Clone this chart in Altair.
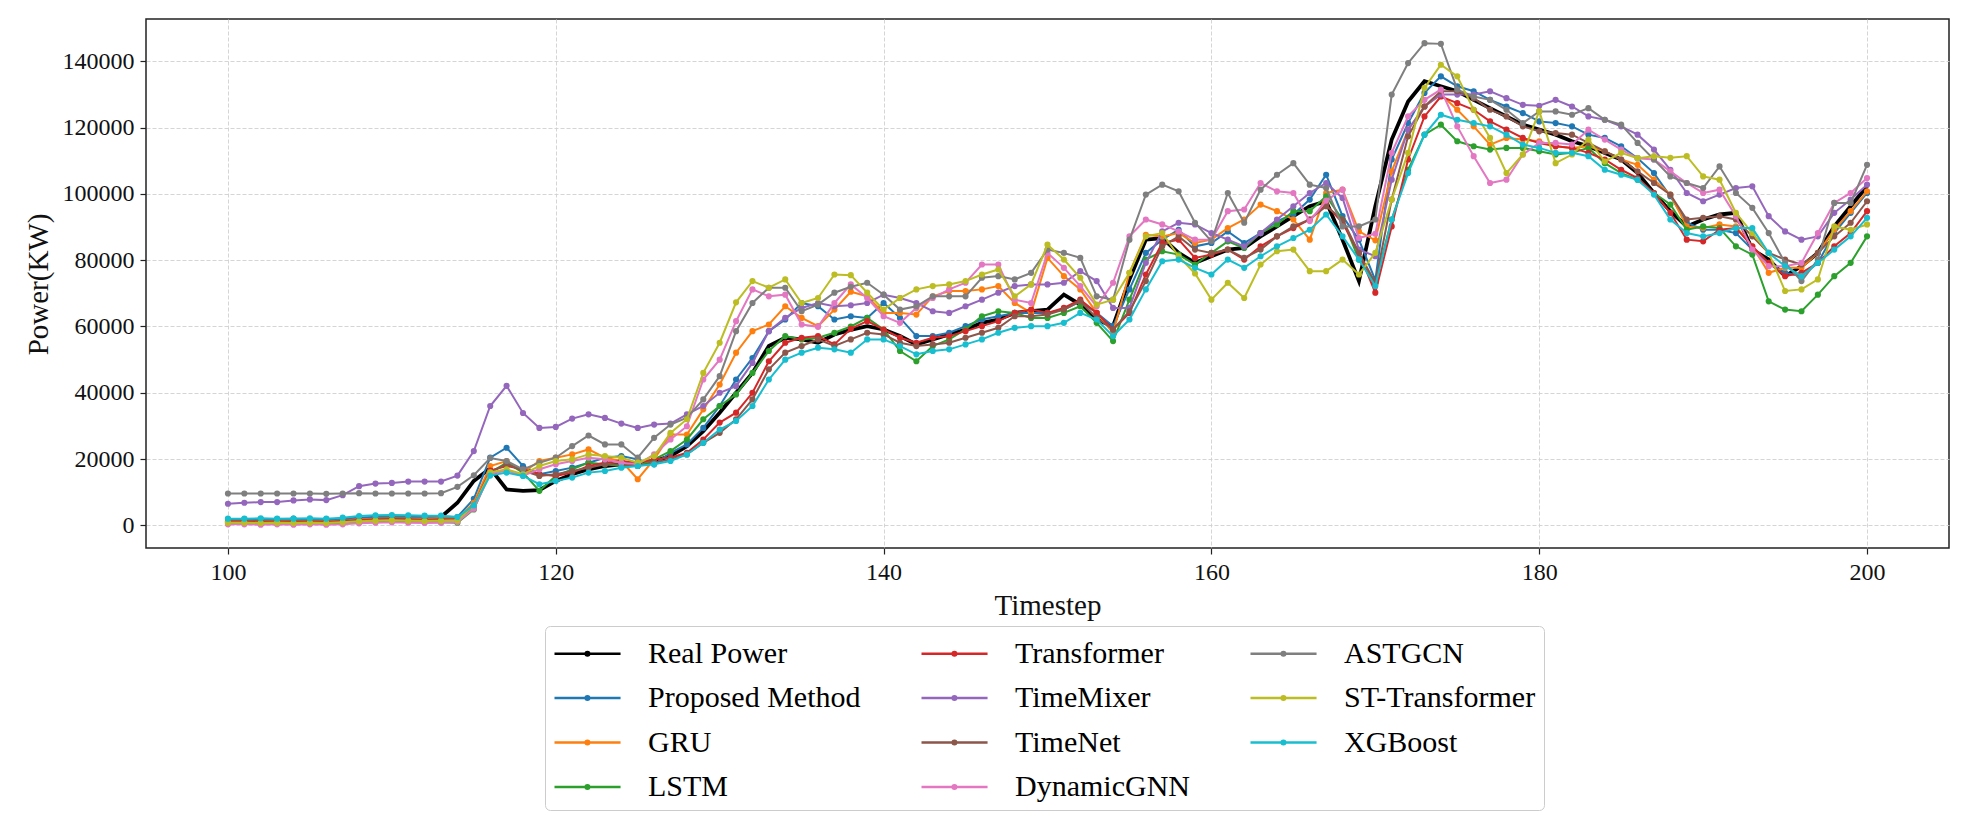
import altair as alt
import pandas as pd

timesteps = list(range(100, 201))

real_power = [1000,1000,1000,1100,1000,1000,1100,1200,1600,1800,1900,1800,1800,2500,
              6800,13400,17200,10800,10400,10600,
              13400,15400,16900,17900,18400,18900,19400,20900,23900,28400,
              34000,40000,46000,54100,56600,56100,55100,57600,59000,60100,
              59100,57100,54600,56100,57600,59100,61100,62100,64100,64600,
              65100,69600,66600,62100,60100,74200,86200,86700,82200,79200,
              81200,83200,83700,87200,90200,93300,96300,97800,86200,73700,
              96300,116400,127900,134000,132500,131000,128400,125900,123400,120900,
              119400,117900,115900,114400,112400,110400,106300,100300,94800,90200,
              92300,93800,94300,83200,80200,75200,78200,82200,90200,96300,102300]

proposed = [1800,1900,1900,1900,2000,1900,1800,2000,2300,2600,2700,2600,2500,2600,
            2500,8000,20400,23400,17900,15400,
            16400,17400,18900,20400,20900,19900,18400,21900,24400,29400,
            36000,44000,50500,58600,62100,67100,66100,62100,63100,62600,
            67100,62600,57100,57100,58100,60100,62100,63100,64100,64100,
            64100,65100,67600,64100,60100,71200,82200,86200,89200,84200,
            85200,88700,85200,88200,91800,93800,98300,105800,93300,86200,
            74000,110400,121400,130500,135500,132500,131000,128400,126400,124400,
            121900,121400,120400,117900,116900,114400,110800,106300,99300,91300,
            89200,89200,88200,83200,79200,76200,75200,79200,88200,94300,100300]

gru = [1300,1300,1200,1300,1200,1300,1200,1400,1800,2000,2100,2000,2000,2100,
       2000,6800,17900,19400,15900,19400,
       20400,21400,22900,20400,19400,13900,19900,27400,27400,35000,
       42500,52100,58600,60600,66100,62600,60100,65100,70500,69100,
       64100,64100,63600,69100,70700,70700,71200,72200,67100,64100,
       80700,75200,71200,64100,58100,76200,87700,87200,88200,85200,
       86200,89700,92300,96800,94800,92300,86200,100300,101300,88700,
       86000,106800,119400,126400,130000,125400,120400,114900,116900,116400,
       115900,114400,113900,114400,112900,110400,108800,104300,99800,90200,
       89700,90800,90200,84200,76200,77700,77700,82200,89200,94800,100800]

lstm = [600,600,500,600,500,600,500,600,1000,1200,1300,1200,1100,900,
        800,4800,15900,18900,15900,10400,
        14900,16900,18900,18400,17900,17900,19900,22400,25900,32000,
        36000,39500,46000,52600,57100,56100,56600,58100,60000,62600,
        59100,52600,49500,54100,56100,59100,63100,64600,64100,62600,
        62600,64100,66100,61100,55600,68100,80200,82700,81700,78700,
        82200,85700,83700,88200,90800,94800,94800,99300,92300,80200,
        73200,92300,107300,117900,120900,115900,114400,113400,113900,113900,
        112900,111900,112400,113900,109300,106300,104300,100300,96800,89200,
        90200,89700,84200,81700,67600,65100,64600,69600,75200,79200,87200]

transformer = [1200,1200,1100,1200,1100,1200,1100,1300,1600,1800,1900,1800,1700,1800,
               1800,6000,16500,17900,16900,15400,
               14900,15900,17900,18900,19400,18900,19900,20400,21900,25900,
               31000,34000,40000,49500,55100,56600,57100,54600,59300,61600,
               59100,56600,55100,56600,57100,58600,60100,61600,64100,65100,
               64100,65600,68100,64100,59100,64100,75700,85200,86200,80700,
               81700,83200,80200,84200,87200,89700,92300,96800,91300,82200,
               70200,90200,110400,123400,129400,127400,125400,121900,119400,116900,
               115400,114400,113900,112400,110400,107300,104800,100300,94300,86200,
               85700,89200,89700,84200,79200,75200,76200,79200,84200,88200,94800]

timemixer = [6500,6800,7000,7000,7500,7800,7600,9100,11800,12600,12800,13200,13200,13200,
             15000,22400,36000,42100,33900,29400,
             29700,32200,33500,32400,30700,29400,30400,30700,33500,36000,
             40000,42000,49000,58600,62600,65600,67100,66100,66400,67100,
             69600,68600,67100,64600,64100,66100,68100,70200,72200,72700,
             72700,73200,76700,73700,65600,65600,79200,88700,91300,90800,
             88200,86200,84200,88200,92300,96300,100300,103300,98800,83200,
             81200,104300,119400,126400,130000,130000,130000,131000,128900,126900,
             126600,128400,126400,123400,122400,120400,117900,113400,107300,100300,
             97800,99800,101800,102300,93300,88700,86200,87200,94300,98300,102800]

timenet = [1000,1000,900,1000,900,1000,900,1100,1400,1600,1700,1600,1500,1600,
           1600,5500,16000,18500,16500,14900,
           15400,16400,17400,18400,18400,17900,18900,19900,21400,24900,
           27900,32000,38000,47100,52100,54100,56100,54100,56100,58100,
           57600,55100,54100,54600,55100,56600,58100,59600,63100,63100,
           63600,65100,67600,62600,59100,64600,73700,84200,87200,83200,
           82200,83200,80700,83200,87200,90200,92300,96300,92300,82200,
           73200,98300,117400,126400,131000,131000,128900,125400,123400,120400,
           118900,118400,117900,115400,112900,110400,106800,103300,99800,92300,
           92800,93300,92300,87200,82200,80200,78700,82200,87200,91300,97800]

dynamicgnn = [300,300,200,300,200,300,200,300,600,800,900,800,700,800,
              1000,5000,15500,16500,15000,16900,
              18400,19400,20400,19900,18900,18400,21400,25900,29900,44000,
              50000,61600,71200,69100,69600,60600,59900,67100,72700,68600,
              63100,61100,65600,68600,71200,73200,78700,78700,68100,67100,
              82200,77700,72200,66100,73200,87200,92300,90800,88700,86200,
              86200,94800,95300,103300,100800,100300,91800,98000,101300,86700,
              88000,112400,123400,128400,131500,120400,111400,103300,104300,111900,
              115400,115400,114900,119400,116400,113400,110800,110400,106800,103300,
              100300,101300,93300,83200,78200,78200,79200,88200,97300,100300,104800]

astgcn = [9600,9600,9600,9600,9600,9600,9500,9600,9700,9600,9600,9600,9600,9700,
          11600,15100,20300,19400,16900,18900,
          20400,23900,27100,24400,24400,20400,26400,30400,32500,38000,
          45000,58600,67100,71700,71700,64600,66600,70200,72000,73200,
          69600,65100,66100,69100,69100,69100,74700,75200,74200,76200,
          83200,82200,80700,69100,68100,86200,99800,102800,100800,91300,
          85700,100300,91300,101300,105800,109300,102800,101800,90200,90200,
          92300,130000,139500,145500,145300,131500,129400,128400,125400,121400,
          124900,124900,123900,125900,122400,120900,115400,110400,105300,103300,
          101800,108300,100300,95800,88200,79200,73700,80200,97300,97300,108800]

st_transformer = [800,800,700,800,700,800,700,900,1200,1400,1500,1400,1300,1400,
                  1500,6000,16000,16900,15400,17900,
                  19400,19900,21400,20900,20400,18900,20900,27900,32000,46000,
                  55100,67300,73700,71700,74200,67100,68600,75700,75500,70200,
                  65100,68600,71200,72200,72700,73700,75700,77200,69100,72700,
                  84700,80200,74700,66600,68100,76200,87200,88200,81200,76000,
                  68100,73200,68600,78700,82700,83200,76700,76700,80200,75700,
                  82200,98300,112400,132000,139000,135500,125400,116900,106300,111900,
                  125000,109300,111900,116400,109800,112400,110800,111400,110900,111400,
                  105300,104300,94300,88200,82200,70700,71200,74200,90200,89200,90800]

xgboost = [2000,2000,2100,2000,2000,2100,2000,2300,2800,3000,3100,3000,2900,2900,
           2500,6000,15000,15900,14900,12400,
           13400,14400,15900,16400,17400,17900,18400,19400,21400,24900,
           28900,31500,36000,44000,50000,52100,53600,53100,52100,56100,
           56100,54100,51600,52600,53100,54600,56100,58100,59600,60100,
           60100,61100,64100,62100,57100,62100,71200,79700,80200,77700,
           75700,80200,77700,81200,84200,86700,89200,93800,87200,80200,
           72200,92300,106300,117900,123900,122400,121400,120400,117900,114900,
           113900,112400,112400,111400,107300,105800,104300,99800,92300,88200,
           87200,88200,89700,89700,82200,78200,75200,79200,83200,87200,92800]

plot_order = ["Real Power", "Proposed Method", "GRU", "LSTM", "Transformer", "TimeMixer",
              "TimeNet", "DynamicGNN", "ASTGCN", "ST-Transformer", "XGBoost"]
series_values = [real_power, proposed, gru, lstm, transformer, timemixer,
                 timenet, dynamicgnn, astgcn, st_transformer, xgboost]
series_colors = ["#000000", "#1f77b4", "#ff7f0e", "#2ca02c", "#d62728", "#9467bd",
                 "#8c564b", "#e377c2", "#7f7f7f", "#bcbd22", "#17becf"]
x_ticks = list(range(100, 201, 20))
y_ticks = list(range(0, 140001, 20000))

rows = []
for name, vals in zip(plot_order, series_values):
    for t, v in zip(timesteps, vals):
        rows.append({"Timestep": t, "Power": v, "Series": name})
df = pd.DataFrame(rows)

FONT = "Liberation Serif"
# legend handle: a line segment with a small dot at its middle
SYMBOL = "M-1,0L2.67,0M0.73,0A0.1,0.1,0,1,1,0.93,0A0.1,0.1,0,1,1,0.73,0"

color = alt.Color(
    "Series:N",
    scale=alt.Scale(domain=plot_order, range=series_colors),
    legend=alt.Legend(
        title=None, orient="none", legendX=399, legendY=607, columns=3,
        columnPadding=55, rowPadding=9.5, padding=8,
        labelFont=FONT, labelFontSize=30, labelColor="#000000", labelLimit=400,
        labelOffset=56, symbolSize=1296, symbolType=SYMBOL, symbolStrokeWidth=2.5,
        strokeColor="#cccccc", fillColor="#ffffff", cornerRadius=5,
    ),
)
x = alt.X("Timestep:Q",
          scale=alt.Scale(domain=[95, 205], nice=False, zero=False),
          axis=alt.Axis(values=x_ticks, title="Timestep", labelPadding=6,
                        titleY=57, titleBaseline="middle"))
y = alt.Y("Power:Q",
          scale=alt.Scale(domain=[-6850, 152800], nice=False, zero=False),
          axis=alt.Axis(values=y_ticks, format="d", title="Power(KW)", labelPadding=6,
                        titleX=-108, titleY=265, titleAngle=270, titleBaseline="middle",
                        titleAlign="center"))

base = alt.Chart(df)
layers = []
for name in plot_order:
    sub = base.transform_filter(alt.datum.Series == name)
    if name == "Real Power":
        layers.append(sub.mark_line(strokeWidth=3.8).encode(x=x, y=y, color=color))
    else:
        layers.append(sub.mark_line(strokeWidth=2).encode(x=x, y=y, color=color))
        layers.append(sub.mark_circle(size=38, opacity=1).encode(x=x, y=y, color=color))

chart = alt.layer(*layers).properties(
    width=1803, height=529,
    autosize=alt.AutoSizeParams(type="none"),
    padding={"left": 146, "top": 19, "right": 22, "bottom": 285},
    background="white",
).configure_view(
    stroke="#222222", strokeWidth=1.5
).configure_axis(
    labelFont=FONT, labelFontSize=24, labelColor="#111111",
    titleFont=FONT, titleFontSize=29, titleFontWeight="normal", titleColor="#111111",
    tickColor="#222222", tickSize=6, tickWidth=1.2, domain=False,
    gridColor="#d0d0d0", gridDash=[4, 2], gridWidth=0.9,
)

chart.save("out.html", embed_options={"renderer": "svg", "actions": False})
